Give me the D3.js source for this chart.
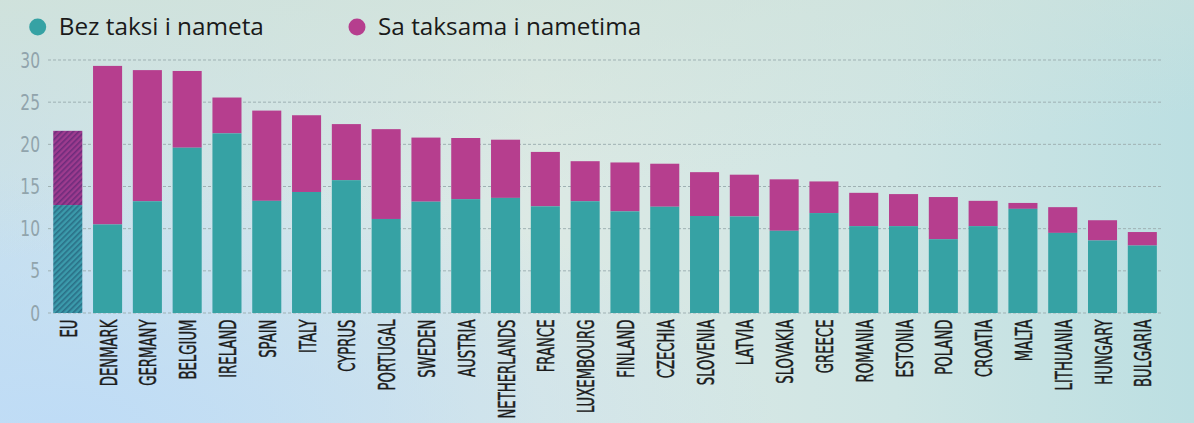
<!DOCTYPE html>
<html>
<head>
<meta charset="utf-8">
<script src="https://cdn.jsdelivr.net/npm/d3@7"></script>
<style>
  html, body { margin: 0; padding: 0; }
  body { width: 1194px; height: 423px; overflow: hidden; }
  svg { display: block; }
</style>
</head>
<body>
<svg id="chart" width="1194" height="423"></svg>
<script>
const countries = ["EU","DENMARK","GERMANY","BELGIUM","IRELAND","SPAIN","ITALY","CYPRUS","PORTUGAL","SWEDEN","AUSTRIA","NETHERLANDS","FRANCE","LUXEMBOURG","FINLAND","CZECHIA","SLOVENIA","LATVIA","SLOVAKIA","GREECE","ROMANIA","ESTONIA","POLAND","CROATIA","MALTA","LITHUANIA","HUNGARY","BULGARIA"];
// Without taxes and levies
const withoutTaxes = [12.8,10.5,13.25,19.6,21.3,13.3,14.35,15.75,11.15,13.2,13.5,13.65,12.65,13.25,12.05,12.6,11.5,11.45,9.75,11.85,10.3,10.3,8.75,10.3,12.35,9.5,8.6,8.0];
// Total with taxes and levies
const withTaxes = [21.6,29.3,28.8,28.7,25.55,24.0,23.45,22.4,21.8,20.8,20.75,20.55,19.1,18.0,17.85,17.7,16.7,16.4,15.85,15.6,14.25,14.1,13.75,13.3,13.05,12.55,11.0,9.6];
const yTicks = [0,5,10,15,20,25,30];
const legendLabels = ["Bez taksi i nameta","Sa taksama i nametima"];

const teal = "#36a2a4";
const magenta = "#b63e8e";
const condFont = "'DejaVu Sans Condensed','DejaVu Sans',sans-serif";

const svg = d3.select("#chart");
const defs = svg.append("defs");

// background gradients
const bg = defs.append("linearGradient").attr("id","bg").attr("x1","0").attr("y1","0").attr("x2","1").attr("y2","0");
bg.append("stop").attr("offset","0").attr("stop-color","#c9e1ee");
bg.append("stop").attr("offset","0.45").attr("stop-color","#dce9e4");
bg.append("stop").attr("offset","0.75").attr("stop-color","#cfe5e4");
bg.append("stop").attr("offset","1").attr("stop-color","#bcdfe2");
const bgV = defs.append("linearGradient").attr("id","bgv").attr("x1","0").attr("y1","0").attr("x2","0.35").attr("y2","1");
bgV.append("stop").attr("offset","0").attr("stop-color","#d0e2da").attr("stop-opacity","0.9");
bgV.append("stop").attr("offset","0.55").attr("stop-color","#d0e2da").attr("stop-opacity","0");
bgV.append("stop").attr("offset","1").attr("stop-color","#bcdcf5").attr("stop-opacity","0.0");
const bgL = defs.append("radialGradient").attr("id","bgl").attr("cx","0.05").attr("cy","1").attr("r","0.6");
bgL.append("stop").attr("offset","0").attr("stop-color","#bfdcf6").attr("stop-opacity","1");
bgL.append("stop").attr("offset","1").attr("stop-color","#bfdcf6").attr("stop-opacity","0");

svg.append("rect").attr("width",1194).attr("height",423).attr("fill","url(#bg)");
svg.append("rect").attr("width",1194).attr("height",423).attr("fill","url(#bgl)");
svg.append("rect").attr("width",1194).attr("height",423).attr("fill","url(#bgv)");

// hatch patterns for EU
function hatch(id, base, line) {
  const p = defs.append("pattern").attr("id", id).attr("patternUnits","userSpaceOnUse")
    .attr("width", 4).attr("height", 4).attr("patternTransform","rotate(45)");
  p.append("rect").attr("width",4).attr("height",4).attr("fill",base);
  p.append("rect").attr("width",1.6).attr("height",4).attr("fill",line);
}
hatch("hatchTeal", "#3b9aab", "#2a6f86");
hatch("hatchMag", "#9d3b8e", "#6e2c7c");

const x = d3.scaleBand().domain(countries).range([42.5, 1167.6]).paddingInner(0.27).paddingOuter(0.27);
const y = d3.scaleLinear().domain([0, 30]).range([313, 60]);

// gridlines
const gx0 = 48, gx1 = 1162;
svg.append("g").selectAll("line").data(yTicks).join("line")
  .attr("x1", gx0).attr("x2", gx1)
  .attr("y1", d => y(d)).attr("y2", d => y(d))
  .attr("stroke", "#9fb1b3").attr("stroke-width", 1).attr("stroke-dasharray", "3,2");

// y tick labels
svg.append("g").selectAll("text").data(yTicks).join("text")
  .attr("transform", d => `translate(40,${y(d)}) scale(0.82,1)`)
  .attr("dy", "0.36em")
  .attr("text-anchor", "end")
  .attr("font-family", condFont)
  .attr("font-size", 21).attr("fill", "#91a4ac")
  .text(d => d);

const data = countries.map((c, i) => ({ c, a: withoutTaxes[i], b: withTaxes[i], eu: c === "EU" }));

const bars = svg.append("g");
// top part (with taxes)
bars.selectAll("rect.top").data(data).join("rect").attr("class","top")
  .attr("x", d => x(d.c)).attr("width", x.bandwidth())
  .attr("y", d => y(d.b)).attr("height", d => y(d.a) - y(d.b))
  .attr("fill", d => d.eu ? "url(#hatchMag)" : magenta);
// bottom part (without taxes)
bars.selectAll("rect.bot").data(data).join("rect").attr("class","bot")
  .attr("x", d => x(d.c)).attr("width", x.bandwidth())
  .attr("y", d => y(d.a)).attr("height", d => y(0) - y(d.a))
  .attr("fill", d => d.eu ? "url(#hatchTeal)" : teal);

// x labels (condensed via horizontal scaling along text direction)
svg.append("g").selectAll("text").data(countries).join("text")
  .attr("transform", d => `translate(${x(d) + x.bandwidth()/2 + 0.5},319.5) rotate(-90) scale(0.64,1)`)
  .attr("dy", "0.37em")
  .attr("text-anchor", "end")
  .attr("font-family", condFont)
  .attr("font-size", 23).attr("fill", "#1c1c1c")
  .attr("stroke", "#1c1c1c").attr("stroke-width", 0.45)
  .text(d => d);

// legend
const legendX = [37.7, 357];
const legendColors = [teal, magenta];
const lg = svg.append("g");
legendLabels.forEach((t, i) => {
  lg.append("circle").attr("cx", legendX[i]).attr("cy", 27).attr("r", 8.5).attr("fill", legendColors[i]);
  lg.append("text").attr("x", legendX[i] + 21).attr("y", 34.5)
    .attr("font-family", "'Open Sans','Noto Sans',sans-serif")
    .attr("font-size", 24.3).attr("fill", "#1a1a1a").text(t);
});
</script>
</body>
</html>
